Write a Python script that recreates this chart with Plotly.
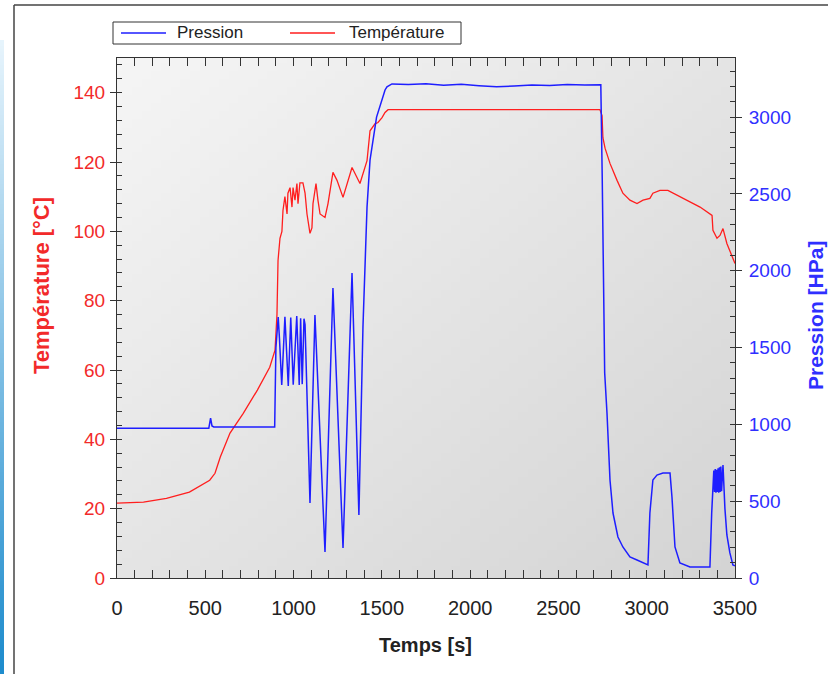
import base64, struct, zlib
import plotly.graph_objects as go

# ---------------- data ----------------
t_temp = [0, 150, 280, 410, 525, 555, 585, 640, 715, 795, 865, 895, 906, 912, 923,
          934, 940, 951, 963, 968, 980, 991, 997, 1008, 1019, 1025, 1036, 1048, 1053, 1065,
          1076, 1093, 1104, 1110, 1127, 1138, 1150, 1178, 1195, 1223, 1246, 1280, 1331, 1376, 1416,
          1433, 1461, 1478, 1501, 1518, 1535, 1560, 2000, 2500, 2735, 2747, 2752, 2764, 2792, 2832,
          2865, 2905, 2945, 2979, 3018, 3035, 3075, 3120, 3149, 3228, 3302, 3370, 3375, 3398, 3415,
          3432, 3454, 3500]
temperature = [21.6, 21.9, 23.0, 24.8, 28.2, 30.2, 34.9, 41.8, 47.5, 54.2, 60.8, 65.7, 76.0, 91.6, 98.0,
               100.0, 106.0, 110.0, 105.0, 111.0, 112.6, 107.0, 112.6, 109.0, 113.8, 108.0, 114.0, 114.0, 114.0, 111.0,
               105.0, 99.4, 101.0, 108.0, 113.8, 109.0, 105.0, 104.0, 108.0, 117.0, 114.7, 109.8, 118.4, 113.8, 120.4,
               129.0, 131.0, 131.4, 132.8, 134.3, 135.1, 135.1, 135.1, 135.1, 135.1, 133.4, 127.0, 124.0, 119.6, 114.7,
               111.0, 109.0, 108.0, 109.0, 109.5, 111.0, 111.8, 111.8, 111.0, 109.0, 107.0, 104.6, 100.3, 98.0, 98.8,
               100.8, 96.5, 90.7]

t_pres = [0, 520, 530, 538, 548, 893, 900, 913, 920, 933, 951, 970, 984, 998, 1018,
          1032, 1040, 1049, 1059, 1065, 1093, 1121, 1178, 1223, 1280, 1331, 1370, 1393, 1416, 1433,
          1470, 1518, 1529, 1557, 1650, 1750, 1850, 1950, 2050, 2150, 2250, 2350, 2450, 2550, 2650,
          2740, 2748, 2752, 2762, 2775, 2792, 2809, 2837, 2865, 2905, 2945, 2979, 3007, 3018, 3035,
          3058, 3092, 3132, 3143, 3160, 3188, 3245, 3358, 3368, 3375, 3380, 3384, 3388, 3392, 3396,
          3400, 3404, 3408, 3412, 3416, 3420, 3424, 3428, 3432, 3443, 3454, 3471, 3488, 3500]
pression = [975, 975, 1040, 990, 983, 983, 1500, 1699, 1560, 1256, 1700, 1250, 1695, 1258, 1705,
            1256, 1690, 1262, 1688, 1650, 488, 1712, 169, 1888, 195, 1985, 410, 1634, 2415, 2721,
            3000, 3177, 3197, 3216, 3212, 3218, 3208, 3214, 3205, 3198, 3203, 3210, 3206, 3212, 3209,
            3210, 2611, 2246, 1335, 1074, 638, 423, 267, 202, 137, 117, 98, 85, 423, 638,
            670, 683, 683, 527, 202, 98, 72, 72, 423, 553, 700, 560, 710, 555, 705,
            560, 715, 555, 720, 560, 725, 565, 735, 736, 450, 280, 163, 85, 80]

x_ticks = [0, 500, 1000, 1500, 2000, 2500, 3000, 3500]
temp_ticks = [0, 20, 40, 60, 80, 100, 120, 140]
pres_ticks = [0, 500, 1000, 1500, 2000, 2500, 3000]
series_names = ["Pression", "Température"]

# ---------------- layout geometry ----------------
W, H = 828, 674
L, R, T, B = 117, 735, 58, 578


def px_x(px):
    return (px - L) / (R - L)


def px_y(py):
    return (B - py) / (B - T)


def png_uri(w, h, fn):
    rows = []
    for yy in range(h):
        row = bytearray([0])
        for xx in range(w):
            row.extend(fn(xx, yy))
        rows.append(bytes(row))
    raw = b"".join(rows)

    def chunk(tag, data):
        return (struct.pack(">I", len(data)) + tag + data +
                struct.pack(">I", zlib.crc32(tag + data) & 0xffffffff))

    png = (b"\x89PNG\r\n\x1a\n" +
           chunk(b"IHDR", struct.pack(">IIBBBBB", w, h, 8, 2, 0, 0, 0)) +
           chunk(b"IDAT", zlib.compress(raw)) + chunk(b"IEND", b""))
    return "data:image/png;base64," + base64.b64encode(png).decode()


def bg_px(xx, yy):
    s = (xx / 63 + yy / 63) / 2
    v = int(round(245 - 33 * s))
    return (v, v, v)


def strip_px(xx, yy):
    s = yy / 63
    c0 = (230, 244, 252)
    c1 = (30, 140, 205)
    return tuple(int(round(a + (b - a) * s)) for a, b in zip(c0, c1))


bg_uri = png_uri(64, 64, bg_px)
strip_uri = png_uri(4, 64, strip_px)

RED = "#f22a2a"
BLUE = "#2f2fff"
LINE_BLUE = "#1e1eff"
LINE_RED = "#ff1e1e"
FONT = "Liberation Sans, Arial, sans-serif"

fig = go.Figure()
fig.add_trace(go.Scatter(x=t_pres, y=pression, name=series_names[0], mode="lines",
                         line=dict(color=LINE_BLUE, width=1.5), yaxis="y2"))
fig.add_trace(go.Scatter(x=t_temp, y=temperature, name=series_names[1], mode="lines",
                         line=dict(color=LINE_RED, width=1.3), yaxis="y"))

# manual legend box (to match the compact boxed legend)
leg_shapes = [
    dict(type="rect", xref="paper", yref="paper", x0=px_x(113), x1=px_x(461),
         y0=px_y(44), y1=px_y(22), fillcolor="white", line=dict(color="#333", width=1)),
    dict(type="line", xref="paper", yref="paper", x0=px_x(121), x1=px_x(166),
         y0=px_y(33), y1=px_y(33), line=dict(color=LINE_BLUE, width=1.3)),
    dict(type="line", xref="paper", yref="paper", x0=px_x(290), x1=px_x(335),
         y0=px_y(33), y1=px_y(33), line=dict(color=LINE_RED, width=1.3)),
]
leg_annots = [
    dict(text=series_names[0], xref="paper", yref="paper", x=px_x(175), y=px_y(33),
         xanchor="left", yanchor="middle", showarrow=False, font=dict(size=17, color="#222")),
    dict(text=series_names[1], xref="paper", yref="paper", x=px_x(347), y=px_y(33),
         xanchor="left", yanchor="middle", showarrow=False, font=dict(size=17, color="#222")),
]

fig.update_layout(
    width=W, height=H, autosize=False,
    margin=dict(l=L, r=W - R, t=T, b=H - B, pad=0),
    paper_bgcolor="white",
    plot_bgcolor="rgba(0,0,0,0)",
    font=dict(family=FONT, size=20, color="#222"),
    showlegend=False,
    xaxis=dict(range=[0, 3500], tickvals=x_ticks, showgrid=False, zeroline=False,
               showline=True, linecolor="#333", linewidth=1, mirror="allticks",
               ticks="inside", ticklen=8, tickcolor="#333",
               minor=dict(dtick=100, ticks="inside", ticklen=5, tickcolor="#333"),
               tickfont=dict(size=20, color="#222"), ticklabelstandoff=12),
    yaxis=dict(range=[0, 150], tickvals=temp_ticks, showgrid=False, zeroline=False,
               showline=True, linecolor="#333", linewidth=1,
               ticks="outside", ticklen=6, tickcolor="#333",
               minor=dict(dtick=4, ticks="inside", ticklen=5, tickcolor="#333"),
               tickfont=dict(size=19, color=RED), ticklabelstandoff=1),
    yaxis2=dict(range=[0, 3385], tickvals=pres_ticks, overlaying="y", side="right",
                showgrid=False, zeroline=False,
                showline=True, linecolor="#333", linewidth=1,
                ticks="outside", ticklen=6, tickcolor="#333",
                minor=dict(dtick=100, ticks="inside", ticklen=5, tickcolor="#333"),
                tickfont=dict(size=19, color=BLUE), ticklabelstandoff=3),
    images=[
        dict(source=bg_uri, xref="paper", yref="paper", x=0, y=1, sizex=1, sizey=1,
             xanchor="left", yanchor="top", sizing="stretch", layer="below"),
        dict(source=strip_uri, xref="paper", yref="paper", x=px_x(0), y=px_y(40),
             sizex=px_x(4) - px_x(0), sizey=px_y(40) - px_y(674),
             xanchor="left", yanchor="top", sizing="stretch", layer="below"),
    ],
    shapes=[
        dict(type="line", xref="paper", yref="paper", x0=px_x(14), x1=px_x(14),
             y0=px_y(5), y1=px_y(674), line=dict(color="#444", width=1.5)),
        dict(type="line", xref="paper", yref="paper", x0=px_x(14), x1=px_x(828),
             y0=px_y(5), y1=px_y(5), line=dict(color="#444", width=1.5)),
    ] + leg_shapes,
    annotations=[
        dict(text="<b>Température [°C]</b>", xref="paper", yref="paper",
             x=px_x(41), y=px_y(286), textangle=-90, showarrow=False,
             font=dict(size=22, color=RED), xanchor="center", yanchor="middle"),
        dict(text="<b>Pression [HPa]</b>", xref="paper", yref="paper",
             x=px_x(815), y=px_y(316), textangle=-90, showarrow=False,
             font=dict(size=21, color=BLUE), xanchor="center", yanchor="middle"),
        dict(text="<b>Temps [s]</b>", xref="paper", yref="paper",
             x=px_x(425), y=px_y(645), showarrow=False,
             font=dict(size=20, color="#222"), xanchor="center", yanchor="middle"),
    ] + leg_annots,
)

fig.write_html("out.html", config={"displayModeBar": False},
               post_script="document.body.style.margin='0px';")
